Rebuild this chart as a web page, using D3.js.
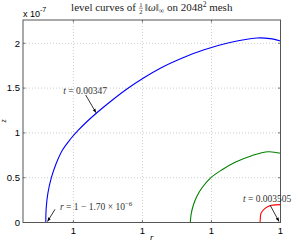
<!DOCTYPE html>
<html>
<head>
<meta charset="utf-8">
<script src="https://cdn.jsdelivr.net/npm/d3@7"></script>
<style>
  body { margin: 0; background: #fff; }
  svg { display: block; }
</style>
</head>
<body>
<svg id="chart" width="298" height="242"></svg>
<script>
// x data kept as offset from 1, in units of 1e-6 : r = 1 - dr*1e-6
// z data in units of 1e-7
const blueDr = [1.700, 1.697, 1.685, 1.660, 1.624, 1.579, 1.524, 1.466, 1.401, 1.328, 1.222, 1.102, 0.998, 0.860, 0.715, 0.559, 0.366, 0.170, 0.076, 0]
const blueZ  = [0,     0.162, 0.326, 0.497, 0.661, 0.809, 0.926, 1.027, 1.127, 1.228, 1.362, 1.501, 1.607, 1.730, 1.833, 1.925, 2.009, 2.059, 2.052, 2.026]

const greenDr = [0.653, 0.648, 0.631, 0.607, 0.571, 0.510, 0.426, 0.329, 0.209, 0.088, 0]
const greenZ  = [0,     0.084, 0.195, 0.288, 0.382, 0.493, 0.586, 0.672, 0.746, 0.790, 0.772]

const redDr = [0.148, 0.146, 0.141, 0.112, 0.064, 0]
const redZ  = [0,     0.050, 0.103, 0.158, 0.192, 0.200]

const xTicks = [1.5, 1.0, 0.5, 0]
const xTickLabels = ['1', '1', '1', '1']
const yTicks = [0, 0.5, 1, 1.5, 2]
const yTickLabels = ['0', '0.5', '1', '1.5', '2']

const svg = d3.select('#chart')
const mLeft = 23, mRight = 280.5, mTop = 20, mBottom = 222.5

const x = d3.scaleLinear().domain([1.865, 0]).range([mLeft, mRight])
const y = d3.scaleLinear().domain([0, 2.26]).range([mBottom, mTop])

const sans = 'Liberation Sans, Arial, sans-serif'
const serif = 'Liberation Serif, DejaVu Serif, serif'

// grid
const grid = svg.append('g')
grid.selectAll('.gx')
  .data(xTicks.filter(d => d > 0))
  .enter().append('line')
  .attr('x1', d => x(d)).attr('x2', d => x(d))
  .attr('y1', mTop).attr('y2', mBottom)
  .attr('stroke', '#b8b8b8').attr('stroke-width', 0.7)
  .attr('stroke-dasharray', '1,2')
grid.selectAll('.gy')
  .data(yTicks.filter(d => d > 0))
  .enter().append('line')
  .attr('x1', mLeft).attr('x2', mRight)
  .attr('y1', d => y(d)).attr('y2', d => y(d))
  .attr('stroke', '#b8b8b8').attr('stroke-width', 0.7)
  .attr('stroke-dasharray', '1,2')

// curves
const line = d3.line()
  .x(d => x(d[0]))
  .y(d => y(d[1]))
  .curve(d3.curveCatmullRom.alpha(0.5))

function addCurve(dr, z, color) {
  svg.append('path')
    .datum(dr.map((d, i) => [d, z[i]]))
    .attr('d', line)
    .attr('fill', 'none')
    .attr('stroke', color)
    .attr('stroke-width', 1.1)
}
addCurve(blueDr, blueZ, '#0000ff')
addCurve(greenDr, greenZ, '#008000')
addCurve(redDr, redZ, '#ff0000')

// axes box
svg.append('rect')
  .attr('x', mLeft).attr('y', mTop)
  .attr('width', mRight - mLeft).attr('height', mBottom - mTop)
  .attr('fill', 'none').attr('stroke', '#555').attr('stroke-width', 1)

// inside ticks
const tl = 2.5
const ticks = svg.append('g').attr('stroke', '#555').attr('stroke-width', 0.8)
xTicks.forEach(d => {
  ticks.append('line').attr('x1', x(d)).attr('x2', x(d)).attr('y1', mBottom).attr('y2', mBottom - tl)
  ticks.append('line').attr('x1', x(d)).attr('x2', x(d)).attr('y1', mTop).attr('y2', mTop + tl)
})
yTicks.forEach(d => {
  ticks.append('line').attr('x1', mLeft).attr('x2', mLeft + tl).attr('y1', y(d)).attr('y2', y(d))
  ticks.append('line').attr('x1', mRight).attr('x2', mRight - tl).attr('y1', y(d)).attr('y2', y(d))
})

// tick labels
svg.selectAll('.xl')
  .data(xTicks)
  .enter().append('text')
  .attr('x', d => x(d)).attr('y', 234)
  .attr('text-anchor', 'middle')
  .attr('font-family', sans).attr('font-size', 9.5)
  .text((d, i) => xTickLabels[i])
svg.selectAll('.yl')
  .data(yTicks)
  .enter().append('text')
  .attr('x', 20).attr('y', d => y(d) + 3.4)
  .attr('text-anchor', 'end')
  .attr('font-family', sans).attr('font-size', 9.5)
  .text((d, i) => yTickLabels[i])

// exponent
const ex = svg.append('text').attr('x', 23).attr('y', 16.5)
  .attr('font-family', sans).attr('font-size', 9)
ex.append('tspan').text('x 10')
ex.append('tspan').attr('dy', -5).attr('font-size', 7).text('-7')

// axis labels
svg.append('text').attr('x', 151.7).attr('y', 240)
  .attr('text-anchor', 'middle')
  .attr('font-family', serif).attr('font-style', 'italic').attr('font-size', 9)
  .text('r')
svg.append('text')
  .attr('transform', 'translate(6,121) rotate(-90)')
  .attr('text-anchor', 'middle')
  .attr('font-family', serif).attr('font-style', 'italic').attr('font-size', 8)
  .text('z')

// title
const title = svg.append('g').attr('font-family', serif).attr('font-size', 11).attr('fill', '#222')
const t1 = title.append('text').attr('y', 11).text('level curves of')
const w1 = t1.node().getComputedTextLength()
const fw = 9
const t2 = title.append('text').attr('y', 11)
t2.append('tspan').text('\u2016')
t2.append('tspan').attr('font-style', 'italic').text('\u03c9')
t2.append('tspan').text('\u2016')
t2.append('tspan').attr('dy', 2).attr('font-size', 7.5).text('\u221e')
t2.append('tspan').attr('dy', -2).text(' on 2048')
t2.append('tspan').attr('dy', -4).attr('font-size', 7.5).text('2')
t2.append('tspan').attr('dy', 4).text(' mesh')
const w2 = t2.node().getComputedTextLength()
const x0 = (mLeft + mRight) / 2 - (w1 + fw + w2) / 2
t1.attr('x', x0)
t2.attr('x', x0 + w1 + fw)
const fx = x0 + w1 + fw / 2 + 0.5
title.append('text').attr('x', fx).attr('y', 7).attr('text-anchor', 'middle').attr('font-size', 6.5).text('1')
title.append('line').attr('x1', fx - 2).attr('x2', fx + 2).attr('y1', 8.2).attr('y2', 8.2).attr('stroke', '#222').attr('stroke-width', 0.5)
title.append('text').attr('x', fx).attr('y', 13.5).attr('text-anchor', 'middle').attr('font-size', 6.5).text('2')

// annotations
const defs = svg.append('defs')
defs.append('marker')
  .attr('id', 'ah').attr('viewBox', '0 0 10 10')
  .attr('refX', 10).attr('refY', 5)
  .attr('markerWidth', 5).attr('markerHeight', 5)
  .attr('orient', 'auto')
  .append('path').attr('d', 'M0,1 L10,5 L0,9 Z').attr('fill', '#000')

function arrow(x1, y1, x2, y2) {
  svg.append('line')
    .attr('x1', x1).attr('y1', y1).attr('x2', x2).attr('y2', y2)
    .attr('stroke', '#000').attr('stroke-width', 0.8)
    .attr('marker-end', 'url(#ah)')
}

function label(xp, yp, parts) {
  const t = svg.append('text').attr('x', xp).attr('y', yp)
    .attr('font-family', serif).attr('font-size', 9.5).attr('fill', '#333')
  parts.forEach(p => {
    const s = t.append('tspan').text(p.s)
    if (p.i) s.attr('font-style', 'italic')
    if (p.dy) s.attr('dy', p.dy)
    if (p.fs) s.attr('font-size', p.fs)
  })
  return t
}

arrow(85.7, 95, 96, 112.7)
label(63.3, 93.5, [{ s: 't', i: true }, { s: ' = 0.00347' }])

arrow(55, 209.3, 47.5, 221.5)
label(60, 210, [{ s: 'r', i: true }, { s: ' = 1 \u2212 1.70 \u00d7 10' }, { s: '\u22126', dy: -4, fs: 7 }])

arrow(270, 205, 279, 221.5)
label(243, 201.5, [{ s: 't', i: true }, { s: ' = 0.003505' }])
</script>
</body>
</html>
